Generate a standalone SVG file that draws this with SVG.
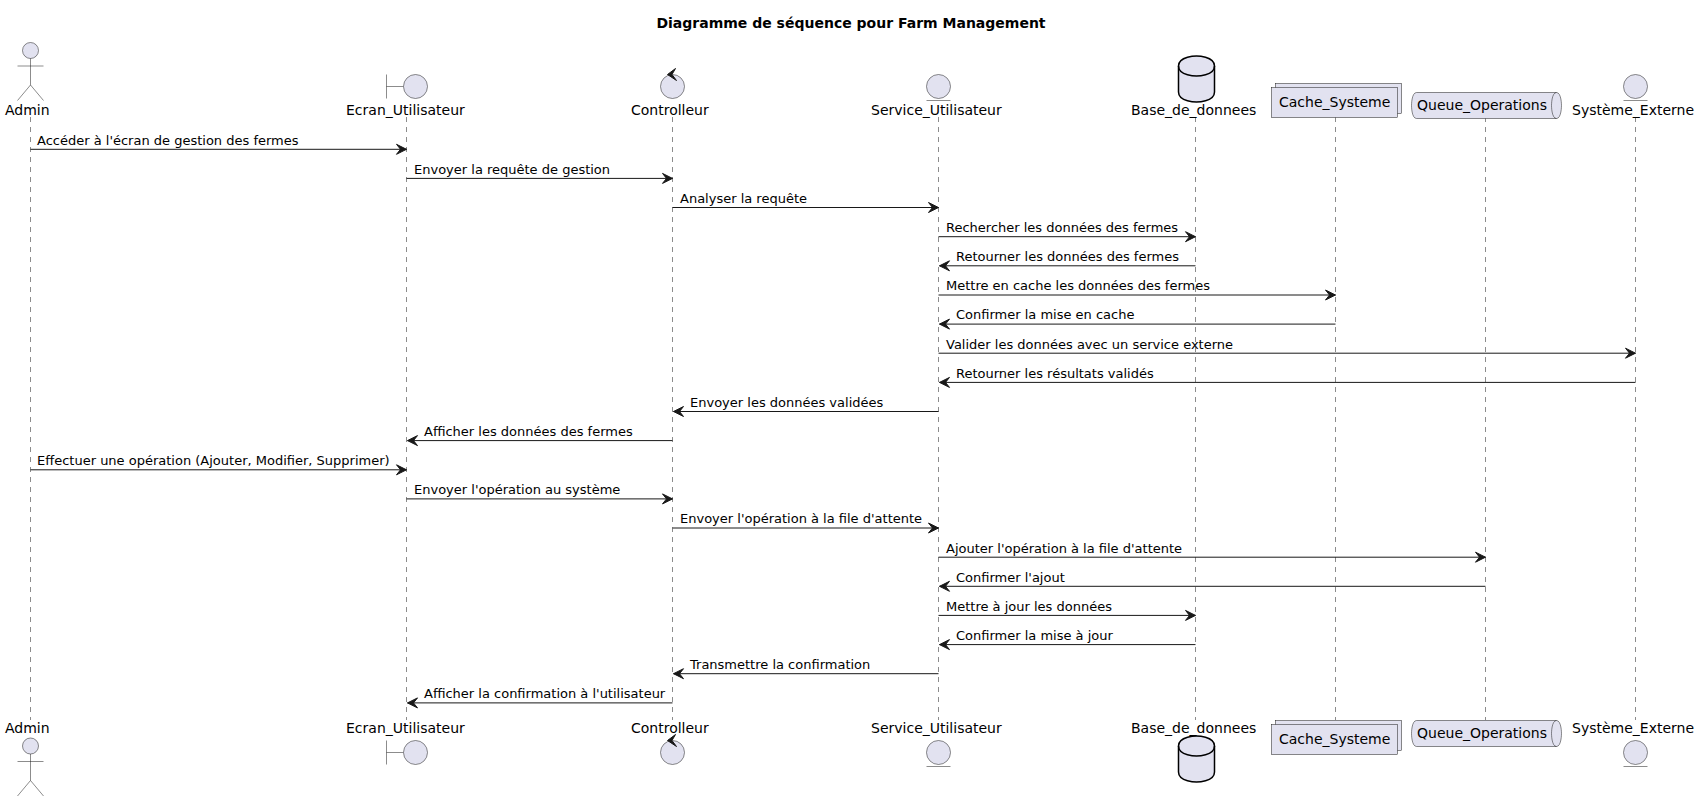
<svg xmlns="http://www.w3.org/2000/svg" width="1699" height="801" viewBox="0 0 1699 801">
<style>
text{font-family:"DejaVu Sans",sans-serif;font-size:13px;fill:#000}
.n{font-size:14px}
.t{font-size:14px;font-weight:bold}
.life{stroke:#181818;stroke-width:.5;stroke-dasharray:5 5;fill:none}
.m{stroke:#181818;stroke-width:1;fill:none}
.h{fill:#181818;stroke:#181818}
.s{fill:#E2E2F0;stroke:#181818;stroke-width:.5}
.db{fill:#E2E2F0;stroke:#000;stroke-width:1.5}
.dbl{fill:none;stroke:#000;stroke-width:1.5}
.l{stroke:#181818;stroke-width:.5;fill:none}
.c{fill:#181818;stroke:#181818;stroke-width:1}
</style>
<defs>
<marker id="r" markerUnits="userSpaceOnUse" markerWidth="13" markerHeight="12" refX="11" refY="5" orient="auto" overflow="visible"><path class="h" d="M1,0 L11,5 L1,10 L5,5 Z"/></marker>
</defs>
<rect width="1699" height="801" fill="#fff"/>
<text class="t" x="851" y="28" text-anchor="middle">Diagramme de séquence pour Farm Management</text>
<g id="lifelines">
<path class="life" d="M30.5,117V720"/><path class="life" d="M406.5,117V720"/><path class="life" d="M672.5,117V720"/><path class="life" d="M938.5,117V720"/><path class="life" d="M1195.5,117V720"/><path class="life" d="M1335.5,117V720"/><path class="life" d="M1485.5,117V720"/><path class="life" d="M1635.5,117V720"/>
</g>
<g id="connectors">
<g id="m1"><path class="m" marker-end="url(#r)" d="M30.5,149.3H406.5"/><text x="37" y="145">Accéder à l'écran de gestion des fermes</text></g>
<g id="m2"><path class="m" marker-end="url(#r)" d="M406.5,178.4H672.5"/><text x="414" y="174">Envoyer la requête de gestion</text></g>
<g id="m3"><path class="m" marker-end="url(#r)" d="M672.5,207.5H938.5"/><text x="680" y="203">Analyser la requête</text></g>
<g id="m4"><path class="m" marker-end="url(#r)" d="M938.5,236.7H1195.5"/><text x="946" y="232">Rechercher les données des fermes</text></g>
<g id="m5"><path class="m" marker-end="url(#r)" d="M1195.5,265.8H939.5"/><text x="956" y="261">Retourner les données des fermes</text></g>
<g id="m6"><path class="m" marker-end="url(#r)" d="M938.5,295H1335.5"/><text x="946" y="290">Mettre en cache les données des fermes</text></g>
<g id="m7"><path class="m" marker-end="url(#r)" d="M1335.5,324.1H939.5"/><text x="956" y="319">Confirmer la mise en cache</text></g>
<g id="m8"><path class="m" marker-end="url(#r)" d="M938.5,353.2H1635.5"/><text x="946" y="349">Valider les données avec un service externe</text></g>
<g id="m9"><path class="m" marker-end="url(#r)" d="M1635.5,382.4H939.5"/><text x="956" y="378">Retourner les résultats validés</text></g>
<g id="m10"><path class="m" marker-end="url(#r)" d="M938.5,411.5H673.5"/><text x="690" y="407">Envoyer les données validées</text></g>
<g id="m11"><path class="m" marker-end="url(#r)" d="M672.5,440.6H407.5"/><text x="424" y="436">Afficher les données des fermes</text></g>
<g id="m12"><path class="m" marker-end="url(#r)" d="M30.5,469.8H406.5"/><text x="37" y="465">Effectuer une opération (Ajouter, Modifier, Supprimer)</text></g>
<g id="m13"><path class="m" marker-end="url(#r)" d="M406.5,498.9H672.5"/><text x="414" y="494">Envoyer l'opération au système</text></g>
<g id="m14"><path class="m" marker-end="url(#r)" d="M672.5,528H938.5"/><text x="680" y="523">Envoyer l'opération à la file d'attente</text></g>
<g id="m15"><path class="m" marker-end="url(#r)" d="M938.5,557.2H1485.5"/><text x="946" y="553">Ajouter l'opération à la file d'attente</text></g>
<g id="m16"><path class="m" marker-end="url(#r)" d="M1485.5,586.3H939.5"/><text x="956" y="582">Confirmer l'ajout</text></g>
<g id="m17"><path class="m" marker-end="url(#r)" d="M938.5,615.4H1195.5"/><text x="946" y="611">Mettre à jour les données</text></g>
<g id="m18"><path class="m" marker-end="url(#r)" d="M1195.5,644.6H939.5"/><text x="956" y="640">Confirmer la mise à jour</text></g>
<g id="m19"><path class="m" marker-end="url(#r)" d="M938.5,673.7H673.5"/><text x="690" y="669">Transmettre la confirmation</text></g>
<g id="m20"><path class="m" marker-end="url(#r)" d="M672.5,702.9H407.5"/><text x="424" y="698">Afficher la confirmation à l'utilisateur</text></g>
</g>
<g id="admin-top"><circle class="s" cx="30.5" cy="50.5" r="8"/><path class="l" d="M30.5,58.5V85M17.5,66H43.5M30.5,85L17.5,100.5M30.5,85L43.5,100.5"/><text class="n" x="5" y="115">Admin</text></g>
<g id="ecran-top"><path class="l" d="M386.5,74.5V98.5M386.5,86.5H403.5"/><circle class="s" cx="415.5" cy="86.5" r="12"/><text class="n" x="346" y="115">Ecran_Utilisateur</text></g>
<g id="controlleur-top"><circle class="s" cx="672.5" cy="86.5" r="12"/><path class="c" d="M667.5,74.5L675.5,68.5L672,74.5L676.5,80.5Z"/><text class="n" x="631" y="115">Controlleur</text></g>
<g id="service-top"><circle class="s" cx="938.5" cy="86.5" r="12"/><path class="l" d="M926.5,100.5H950.5"/><text class="n" x="871" y="115">Service_Utilisateur</text></g>
<g id="base-top"><path class="db" d="M1178.5,66C1178.5,56 1196.5,56 1196.5,56C1196.5,56 1214.5,56 1214.5,66V92C1214.5,102 1196.5,102 1196.5,102C1196.5,102 1178.5,102 1178.5,92Z"/><path class="dbl" d="M1178.5,66C1178.5,76 1196.5,76 1196.5,76C1196.5,76 1214.5,76 1214.5,66"/><text class="n" x="1131" y="115">Base_de_donnees</text></g>
<g id="cache-top"><rect class="s" x="1275.5" y="83.5" width="126" height="30"/><rect class="s" x="1271.5" y="87.5" width="126" height="30"/><text class="n" x="1279" y="107">Cache_Systeme</text></g>
<g id="queue-top"><path class="s" d="M1416.5,92.5H1556.5C1561.5,92.5 1561.5,105.5 1561.5,105.5C1561.5,105.5 1561.5,118.5 1556.5,118.5H1416.5C1411.5,118.5 1411.5,105.5 1411.5,105.5C1411.5,105.5 1411.5,92.5 1416.5,92.5Z"/><path class="l" d="M1556.5,92.5C1551.5,92.5 1551.5,105.5 1551.5,105.5C1551.5,105.5 1551.5,118.5 1556.5,118.5"/><text class="n" x="1417" y="110">Queue_Operations</text></g>
<g id="externe-top"><circle class="s" cx="1635.5" cy="86.5" r="12"/><path class="l" d="M1623.5,100.5H1647.5"/><text class="n" x="1572" y="115">Système_Externe</text></g>
<g id="admin-bottom"><text class="n" x="5" y="733">Admin</text><circle class="s" cx="30.5" cy="746" r="8"/><path class="l" d="M30.5,754V780.5M17.5,761.5H43.5M30.5,780.5L17.5,796M30.5,780.5L43.5,796"/></g>
<g id="ecran-bottom"><text class="n" x="346" y="733">Ecran_Utilisateur</text><path class="l" d="M386.5,740.5V764.5M386.5,752.5H403.5"/><circle class="s" cx="415.5" cy="752.5" r="12"/></g>
<g id="controlleur-bottom"><text class="n" x="631" y="733">Controlleur</text><circle class="s" cx="672.5" cy="752.5" r="12"/><path class="c" d="M667.5,740.5L675.5,734.5L672,740.5L676.5,746.5Z"/></g>
<g id="service-bottom"><text class="n" x="871" y="733">Service_Utilisateur</text><circle class="s" cx="938.5" cy="752.5" r="12"/><path class="l" d="M926.5,766.5H950.5"/></g>
<g id="base-bottom"><text class="n" x="1131" y="733">Base_de_donnees</text><path class="db" d="M1178.5,746C1178.5,736 1196.5,736 1196.5,736C1196.5,736 1214.5,736 1214.5,746V772C1214.5,782 1196.5,782 1196.5,782C1196.5,782 1178.5,782 1178.5,772Z"/><path class="dbl" d="M1178.5,746C1178.5,756 1196.5,756 1196.5,756C1196.5,756 1214.5,756 1214.5,746"/></g>
<g id="cache-bottom"><rect class="s" x="1275.5" y="720.5" width="126" height="30"/><rect class="s" x="1271.5" y="724.5" width="126" height="30"/><text class="n" x="1279" y="744">Cache_Systeme</text></g>
<g id="queue-bottom"><path class="s" d="M1416.5,720.5H1556.5C1561.5,720.5 1561.5,733.5 1561.5,733.5C1561.5,733.5 1561.5,746.5 1556.5,746.5H1416.5C1411.5,746.5 1411.5,733.5 1411.5,733.5C1411.5,733.5 1411.5,720.5 1416.5,720.5Z"/><path class="l" d="M1556.5,720.5C1551.5,720.5 1551.5,733.5 1551.5,733.5C1551.5,733.5 1551.5,746.5 1556.5,746.5"/><text class="n" x="1417" y="738">Queue_Operations</text></g>
<g id="externe-bottom"><text class="n" x="1572" y="733">Système_Externe</text><circle class="s" cx="1635.5" cy="752.5" r="12"/><path class="l" d="M1623.5,766.5H1647.5"/></g>
</svg>
